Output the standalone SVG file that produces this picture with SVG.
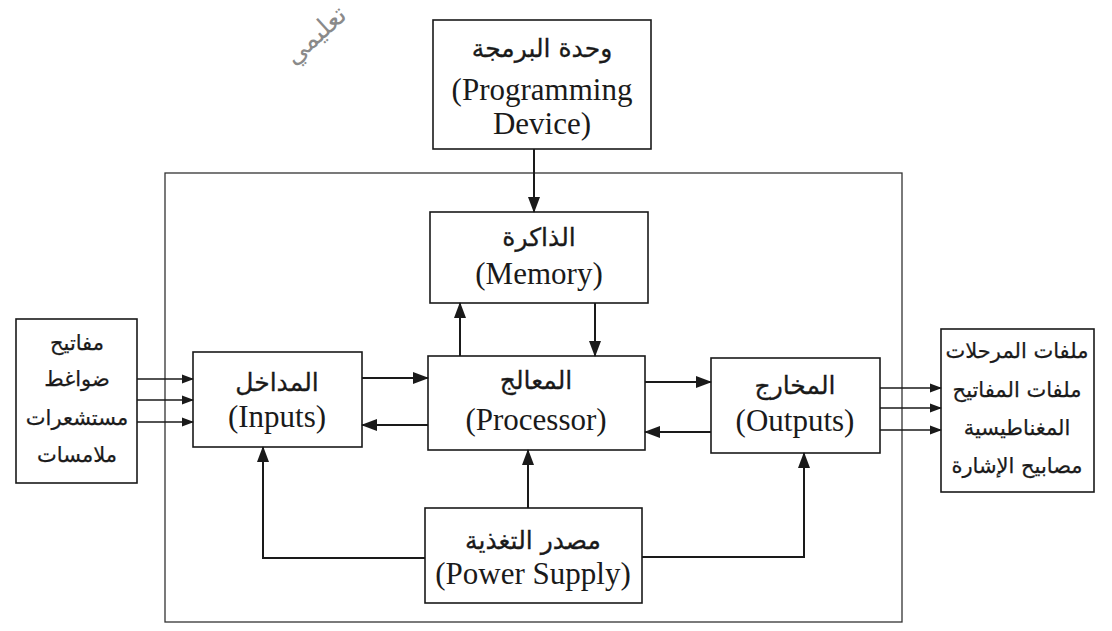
<svg xmlns="http://www.w3.org/2000/svg" width="1112" height="631" viewBox="0 0 1112 631">
<style>
.box{fill:#fff;stroke:#1a1a1a;stroke-width:1.6}
.frame{fill:none;stroke:#333;stroke-width:1.3}
.en{font-family:"Liberation Serif","Times New Roman",serif;font-size:31px;fill:#1a1a1a;text-anchor:middle}
.ar{font-family:"DejaVu Sans","Noto Sans",sans-serif;font-size:25px;fill:#1a1a1a;text-anchor:middle;direction:rtl;stroke:#1a1a1a;stroke-width:0.3}
.ars{font-family:"DejaVu Sans","Noto Sans",sans-serif;font-size:21px;fill:#1a1a1a;text-anchor:middle;direction:rtl;stroke:#1a1a1a;stroke-width:0.25}
.wm{font-family:"DejaVu Sans","Noto Sans",sans-serif;font-size:26px;fill:#8a8a8a}
.c{fill:none;stroke:#1a1a1a;stroke-width:2}
.t{fill:none;stroke:#1a1a1a;stroke-width:1.3}
</style>
<defs>
<marker id="ah" markerUnits="userSpaceOnUse" markerWidth="16" markerHeight="12" viewBox="0 0 16 12" refX="15" refY="6" orient="auto">
<path d="M0,0 L16,6 L0,12 Z" fill="#1a1a1a"/>
</marker>
<marker id="sh" markerUnits="userSpaceOnUse" markerWidth="12" markerHeight="10" viewBox="0 0 12 10" refX="11" refY="5" orient="auto">
<path d="M0,0.5 L12,5 L0,9.5 Z" fill="#1a1a1a"/>
</marker>
</defs>

<text class="wm" x="0" y="0" transform="translate(294,66) rotate(-42)">تعليمي</text>

<rect class="frame" x="165" y="173" width="737" height="449"/>

<g id="programming">
<rect class="box" x="433" y="20" width="218" height="129"/>
<text class="ar" x="542" y="57">وحدة البرمجة</text>
<text class="en" x="542" y="100">(Programming</text>
<text class="en" x="542" y="134">Device)</text>
</g>

<g id="memory">
<rect class="box" x="430" y="212" width="218" height="91"/>
<text class="ar" x="539" y="246">الذاكرة</text>
<text class="en" x="539" y="284">(Memory)</text>
</g>

<g id="processor">
<rect class="box" x="428" y="356" width="217" height="94"/>
<text class="ar" x="536" y="389">المعالج</text>
<text class="en" x="536" y="430">(Processor)</text>
</g>

<g id="inputs">
<rect class="box" x="193" y="352" width="169" height="95"/>
<text class="ar" x="277" y="391">المداخل</text>
<text class="en" x="277" y="427">(Inputs)</text>
</g>

<g id="outputs">
<rect class="box" x="711" y="358" width="169" height="95"/>
<text class="ar" x="795" y="394">المخارج</text>
<text class="en" x="795" y="431">(Outputs)</text>
</g>

<g id="power">
<rect class="box" x="425" y="508" width="217" height="95"/>
<text class="ar" x="533" y="549">مصدر التغذية</text>
<text class="en" x="533" y="584">(Power Supply)</text>
</g>

<g id="sensors">
<rect class="box" x="16" y="319" width="121" height="164"/>
<text class="ars" x="77" y="350">مفاتيح</text>
<text class="ars" x="77" y="386">ضواغط</text>
<text class="ars" x="77" y="425">مستشعرات</text>
<text class="ars" x="77" y="462">ملامسات</text>
</g>

<g id="actuators">
<rect class="box" x="941" y="329" width="153" height="163"/>
<text class="ars" x="1017" y="358">ملفات المرحلات</text>
<text class="ars" x="1017" y="397">ملفات المفاتيح</text>
<text class="ars" x="1017" y="435">المغناطيسية</text>
<text class="ars" x="1017" y="473">مصابيح الإشارة</text>
</g>

<g id="connectors">
<line class="c" x1="534" y1="149" x2="534" y2="212" marker-end="url(#ah)"/>
<line class="c" x1="460" y1="356" x2="460" y2="303" marker-end="url(#ah)"/>
<line class="c" x1="595" y1="303" x2="595" y2="356" marker-end="url(#ah)"/>
<line class="c" x1="362" y1="378" x2="428" y2="378" marker-end="url(#ah)"/>
<line class="c" x1="428" y1="425" x2="362" y2="425" marker-end="url(#ah)"/>
<line class="c" x1="645" y1="382" x2="711" y2="382" marker-end="url(#ah)"/>
<line class="c" x1="711" y1="432" x2="645" y2="432" marker-end="url(#ah)"/>
<line class="c" x1="528" y1="508" x2="528" y2="450" marker-end="url(#ah)"/>
<path class="c" d="M425,558 H263 V447" marker-end="url(#ah)"/>
<path class="c" d="M642,557 H804 V453" marker-end="url(#ah)"/>
<line class="t" x1="137" y1="379" x2="193" y2="379" marker-end="url(#sh)"/>
<line class="t" x1="137" y1="400" x2="193" y2="400" marker-end="url(#sh)"/>
<line class="t" x1="137" y1="422" x2="193" y2="422" marker-end="url(#sh)"/>
<line class="t" x1="880" y1="388" x2="941" y2="388" marker-end="url(#sh)"/>
<line class="t" x1="880" y1="408" x2="941" y2="408" marker-end="url(#sh)"/>
<line class="t" x1="880" y1="430" x2="941" y2="430" marker-end="url(#sh)"/>
</g>
</svg>
